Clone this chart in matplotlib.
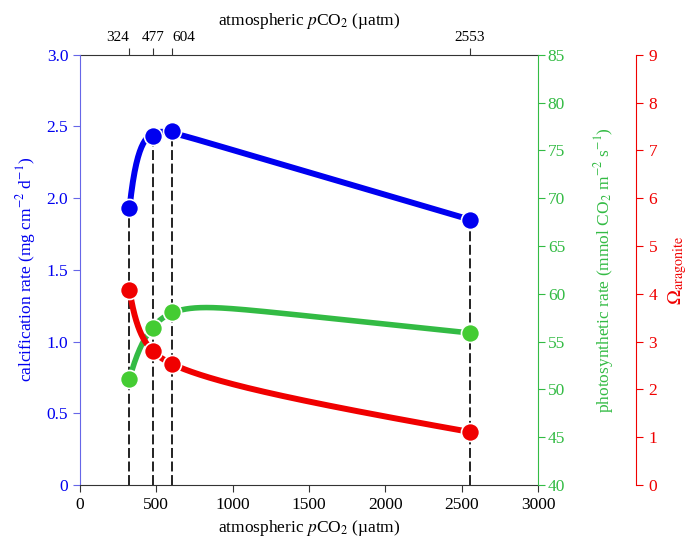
import numpy as np
import matplotlib
matplotlib.use("Agg")
import matplotlib.pyplot as plt

plt.rcParams['font.family'] = ['Liberation Serif', 'DejaVu Serif']
plt.rcParams['mathtext.fontset'] = 'stix'
plt.rcParams['font.size'] = 12.5

# data
pco2 = np.array([324, 477, 604, 2553])
calcification = np.array([1.93, 2.435, 2.47, 1.85])
photosynthesis = np.array([51.1, 56.4, 58.1, 55.9])
omega_arag = np.array([4.08, 2.80, 2.53, 1.11])

BLUE = '#0000f0'
GREEN = '#33bb44'
GREEN_PT = '#44cc33'
RED = '#f00000'


def basis(x, x0, k, inv):
    cols = [np.ones_like(x, float), x, np.exp(-(x - x0) / k)]
    if inv:
        cols.append(1.0 / x)
    return np.column_stack(cols)


def smooth(x, y, k, inv=False):
    # saturating fit: linear trend plus an exponential term (and 1/x for omega)
    x = x.astype(float)
    coef = np.linalg.lstsq(basis(x, x[0], k, inv), y, rcond=None)[0]
    xs = np.linspace(x.min(), x.max(), 400)
    return xs, basis(xs, x[0], k, inv) @ coef


fig = plt.figure(figsize=(6.92, 5.48), dpi=100)
ax = fig.add_axes([0.1156, 0.115, 0.662, 0.785])
ax_g = ax.twinx()
ax_r = ax.twinx()
ax_r.spines['right'].set_position(('axes', 1.214))

# dashed drop lines
for xv, yv in zip(pco2, calcification):
    ax.plot([xv, xv], [0, yv], ls=(0, (5.5, 2.0)), color='#111111', lw=1.3, zorder=1)

xs, ys = smooth(pco2, calcification, 60)
ax.plot(xs, ys, color=BLUE, lw=4.3, zorder=3, solid_capstyle='round')
ax.plot(pco2, calcification, 'o', ms=13, color=BLUE, mec='white', mew=1.2, zorder=4)

xs, ys = smooth(pco2, photosynthesis, 140)
ax_g.plot(xs, ys, color=GREEN, lw=4.0, zorder=3, solid_capstyle='round')
ax_g.plot(pco2, photosynthesis, 'o', ms=13, color=GREEN_PT, mec='white', mew=1.2, zorder=4)

xs, ys = smooth(pco2, omega_arag, 60, inv=True)
ax_r.plot(xs, ys, color=RED, lw=4.3, zorder=3, solid_capstyle='round')
ax_r.plot(pco2, omega_arag, 'o', ms=13, color=RED, mec='white', mew=1.2, zorder=4)

ax.set_xlim(0, 3000)
ax.set_xticks(np.arange(0, 3001, 500))
ax.set_ylim(0, 3)
ax.set_yticks(np.arange(0, 3.01, 0.5))
ax.set_yticklabels(['0'] + ['%.1f' % v for v in np.arange(0.5, 3.01, 0.5)])
ax_g.set_ylim(40, 85)
ax_g.set_yticks(np.arange(40, 86, 5))
ax_r.set_ylim(0, 9)
ax_r.set_yticks(np.arange(0, 10, 1))

xlab = r'atmospheric $p$CO$_2$ (µatm)'
ax.set_xlabel(xlab, labelpad=4)
ax.set_ylabel(r'calcification rate (mg cm$^{-2}$ d$^{-1}$)', color=BLUE, labelpad=6)
ax_g.set_ylabel(r'photosynthetic rate (mmol CO$_2$ m$^{-2}$ s$^{-1}$)', color=GREEN,
                labelpad=19)
ax_r.set_ylabel(r'$\Omega_{\mathrm{aragonite}}$', color=RED, fontsize=14.5, labelpad=6)

# top axis
top = ax.secondary_xaxis('top')
top.set_xticks(pco2)
top.set_xticklabels([str(v) for v in pco2])
top.set_xlabel(xlab, labelpad=4)
top.spines['top'].set_color('#333333')
top.tick_params(length=5, color='#333333', pad=3, labelsize=11)
# crowded labels: push the outer ones away from their neighbours
tl = top.get_xticklabels()
tl[0].set_ha('right')
tl[0].set_x(pco2[0] + 15)
tl[2].set_ha('left')
tl[2].set_x(pco2[2] - 20)

for a in (ax, ax_g, ax_r):
    for s in ('left', 'right', 'top', 'bottom'):
        a.spines[s].set_visible(False)
ax.spines['left'].set_visible(True)
ax.spines['left'].set_color('#6666e8')
ax.spines['bottom'].set_visible(True)
ax.spines['bottom'].set_color('#333333')
ax_g.spines['right'].set_visible(True)
ax_g.spines['right'].set_color(GREEN)
ax_r.spines['right'].set_visible(True)
ax_r.spines['right'].set_color(RED)

ax.tick_params(axis='y', colors='#6666e8', labelcolor=BLUE, length=5)
ax.tick_params(axis='x', colors='#333333', labelcolor='black', length=5)
ax_g.tick_params(axis='y', colors=GREEN, length=5, pad=2)
ax_r.tick_params(axis='y', colors=RED, length=5, pad=4)

fig.savefig('out.png', dpi=100)
